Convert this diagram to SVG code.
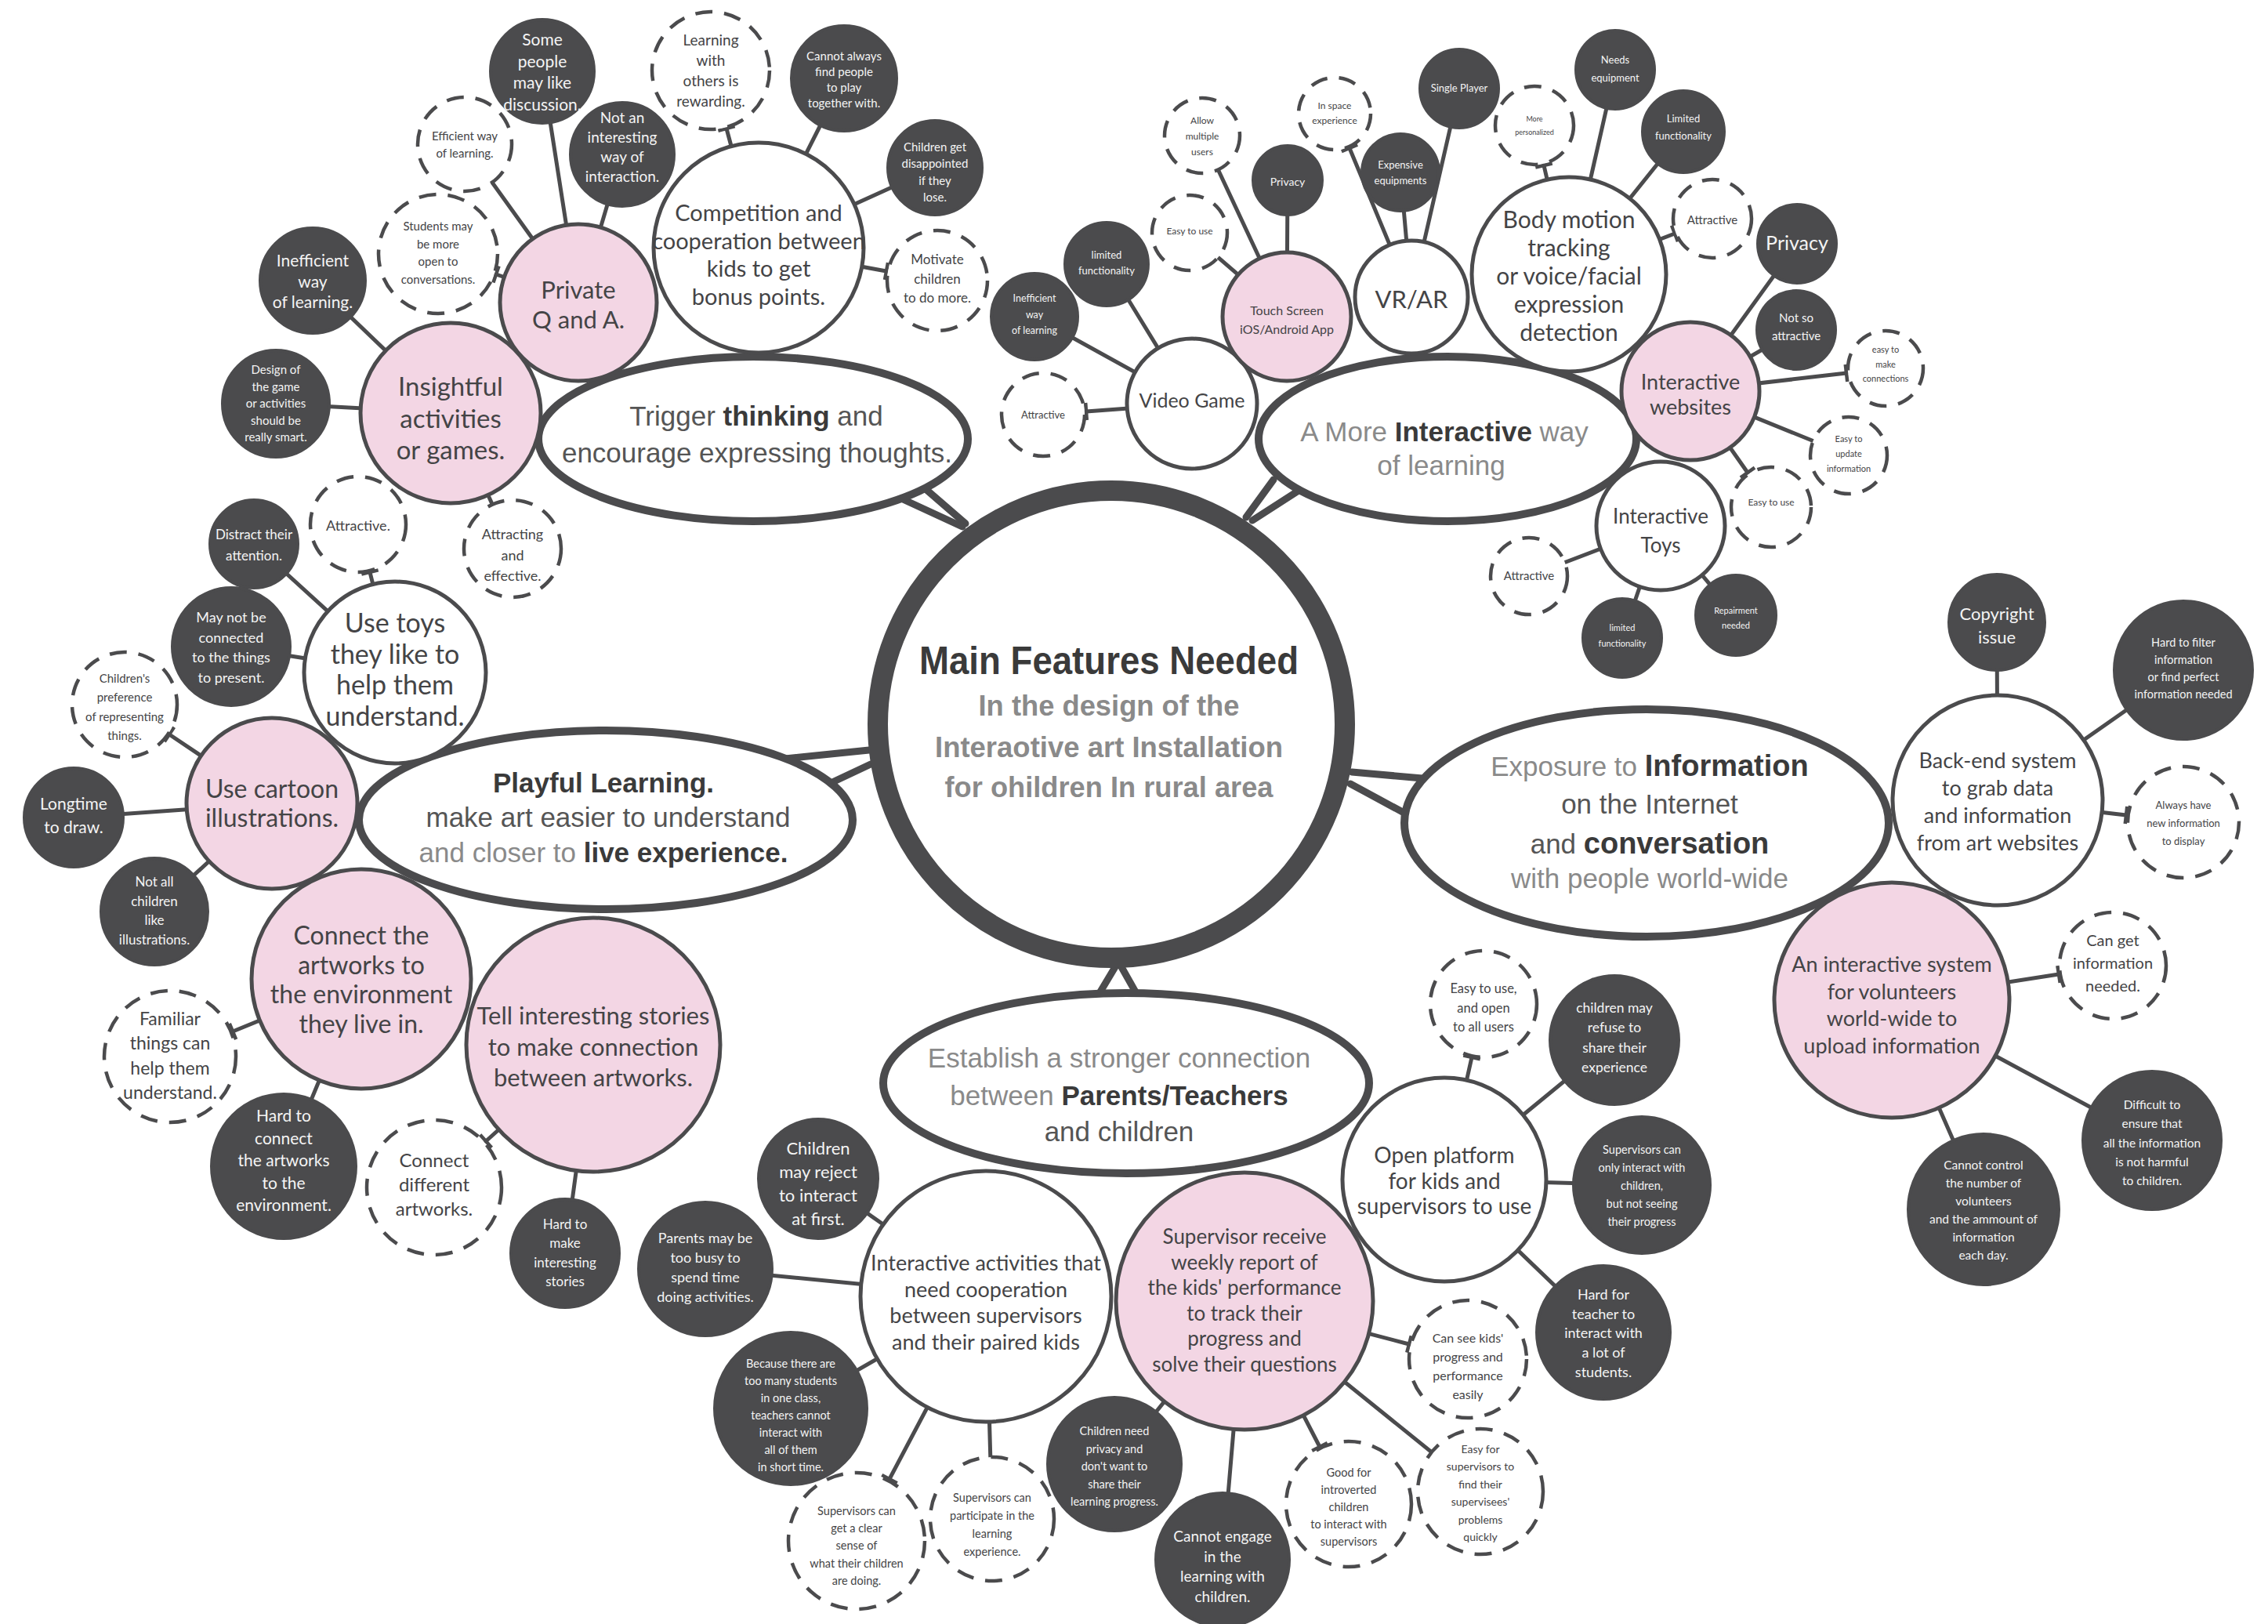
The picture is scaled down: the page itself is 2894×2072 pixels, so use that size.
<svg xmlns="http://www.w3.org/2000/svg" width="2894" height="2072" viewBox="0 0 2894 2072">
<style>
.dk{fill:#4b4b4d;stroke:#4b4b4d;stroke-width:4}
.pk{fill:#f3d6e4;stroke:#4b4b4d;stroke-width:5}
.wh{fill:#ffffff;stroke:#4b4b4d;stroke-width:5}
.ds{fill:#ffffff;stroke:#4b4b4d;stroke-width:4.5;stroke-dasharray:22 15}
.el{fill:#ffffff;stroke:#4b4b4d;stroke-width:10}
.tw{fill:#f4f4f4;font-family:Lato,"Open Sans",sans-serif;text-anchor:middle}
.tk{fill:#444446;font-family:Lato,"Open Sans",sans-serif;text-anchor:middle}
.et{font-family:"Liberation Sans",Arial,sans-serif;font-size:35px;text-anchor:middle}
.g{fill:#8a8a8a}.m{fill:#555555}.b{fill:#3a3a3a;font-weight:bold}
#conn line{stroke:#4b4b4d;stroke-width:5;stroke-linecap:round}
#conn line.t{marker-end:url(#tee)}
#conn line.v{stroke-width:9}
</style>
<defs>
<marker id="tee" viewBox="-3 -12 6 24" refX="0" refY="0" markerWidth="6" markerHeight="24" markerUnits="userSpaceOnUse" orient="auto"><path d="M0,-11 V11" stroke="#4b4b4d" stroke-width="4.5" fill="none"/></marker>
</defs>
<rect width="2894" height="2072" fill="#ffffff"/>
<g id="conn">
<line x1="1232" y1="668" x2="1180" y2="623" class="v"/>
<line x1="1228" y1="672" x2="1150" y2="636" class="v"/>
<line x1="1590" y1="660" x2="1625" y2="612" class="v"/>
<line x1="1598" y1="664" x2="1657" y2="626" class="v"/>
<line x1="1109" y1="957" x2="1002" y2="968" class="v"/>
<line x1="1111" y1="975" x2="1060" y2="999" class="v"/>
<line x1="1725" y1="985" x2="1815" y2="993" class="v"/>
<line x1="1723" y1="1000" x2="1797" y2="1040" class="v"/>
<line x1="1424" y1="1232" x2="1400" y2="1272" class="v"/>
<line x1="1430" y1="1232" x2="1452" y2="1271" class="v"/>
<line x1="738" y1="386" x2="692" y2="91"/>
<line x1="738" y1="386" x2="593" y2="184"/>
<line x1="738" y1="386" x2="794" y2="197"/>
<line x1="738" y1="386" x2="633" y2="350" class="t"/>
<line x1="575" y1="527" x2="399" y2="358"/>
<line x1="575" y1="527" x2="352" y2="515"/>
<line x1="575" y1="527" x2="654" y2="700"/>
<line x1="968" y1="316" x2="1077" y2="100"/>
<line x1="968" y1="316" x2="1193" y2="214"/>
<line x1="968" y1="316" x2="927" y2="164" class="t"/>
<line x1="968" y1="316" x2="1131" y2="346" class="t"/>
<line x1="504" y1="858" x2="324" y2="694"/>
<line x1="504" y1="858" x2="295" y2="825"/>
<line x1="504" y1="858" x2="472" y2="730" class="t"/>
<line x1="347" y1="1025" x2="94" y2="1043"/>
<line x1="347" y1="1025" x2="197" y2="1163"/>
<line x1="347" y1="1025" x2="216" y2="937" class="t"/>
<line x1="461" y1="1249" x2="362" y2="1488"/>
<line x1="461" y1="1249" x2="297" y2="1316" class="t"/>
<line x1="757" y1="1333" x2="721" y2="1599"/>
<line x1="757" y1="1333" x2="620" y2="1456" class="t"/>
<line x1="1258" y1="1654" x2="1044" y2="1504"/>
<line x1="1258" y1="1654" x2="900" y2="1619"/>
<line x1="1258" y1="1654" x2="1009" y2="1797"/>
<line x1="1258" y1="1654" x2="1266" y2="1938"/>
<line x1="1258" y1="1654" x2="1135" y2="1887" class="t"/>
<line x1="1588" y1="1660" x2="1422" y2="1868"/>
<line x1="1588" y1="1660" x2="1560" y2="1990"/>
<line x1="1588" y1="1660" x2="1889" y2="1903"/>
<line x1="1588" y1="1660" x2="1684" y2="1846" class="t"/>
<line x1="1588" y1="1660" x2="1798" y2="1715" class="t"/>
<line x1="1843" y1="1505" x2="2060" y2="1327"/>
<line x1="1843" y1="1505" x2="2095" y2="1512"/>
<line x1="1843" y1="1505" x2="2046" y2="1700"/>
<line x1="1843" y1="1505" x2="1878" y2="1349" class="t"/>
<line x1="2549" y1="1021" x2="2548" y2="794"/>
<line x1="2549" y1="1021" x2="2786" y2="855"/>
<line x1="2549" y1="1021" x2="2713" y2="1040" class="t"/>
<line x1="2414" y1="1276" x2="2746" y2="1455"/>
<line x1="2414" y1="1276" x2="2531" y2="1543"/>
<line x1="2414" y1="1276" x2="2627" y2="1243" class="t"/>
<line x1="1521" y1="515" x2="1320" y2="404"/>
<line x1="1521" y1="515" x2="1412" y2="337"/>
<line x1="1521" y1="515" x2="1386" y2="525" class="t"/>
<line x1="1642" y1="404" x2="1518" y2="297"/>
<line x1="1642" y1="404" x2="1534" y2="173"/>
<line x1="1642" y1="404" x2="1643" y2="230"/>
<line x1="1801" y1="379" x2="1787" y2="220"/>
<line x1="1801" y1="379" x2="1862" y2="113"/>
<line x1="1801" y1="379" x2="1722" y2="189" class="t"/>
<line x1="2002" y1="350" x2="2061" y2="89"/>
<line x1="2002" y1="350" x2="2148" y2="168"/>
<line x1="2002" y1="350" x2="1970" y2="211" class="t"/>
<line x1="2002" y1="350" x2="2137" y2="298" class="t"/>
<line x1="2157" y1="499" x2="2293" y2="311"/>
<line x1="2157" y1="499" x2="2292" y2="421"/>
<line x1="2157" y1="499" x2="2359" y2="581"/>
<line x1="2157" y1="499" x2="2356" y2="476" class="t"/>
<line x1="2157" y1="499" x2="2230" y2="603" class="t"/>
<line x1="2119" y1="671" x2="1951" y2="735"/>
<line x1="2119" y1="671" x2="2070" y2="814"/>
<line x1="2119" y1="671" x2="2215" y2="785"/>
</g>

<g id="e-trigger"><ellipse class="el" cx="961" cy="560" rx="274" ry="105"/>
<text class="et" x="965" y="543"><tspan class="m">Trigger </tspan><tspan class="b">thinking</tspan><tspan class="m"> and</tspan></text>
<text class="et m" x="966" y="590">encourage expressing thoughts.</text></g>
<g id="e-interactive"><ellipse class="el" cx="1847" cy="560" rx="241" ry="105"/>
<text class="et" x="1843" y="563"><tspan class="g">A More </tspan><tspan class="b">Interactive</tspan><tspan class="g"> way</tspan></text>
<text class="et g" x="1839" y="606">of learning</text></g>
<g id="e-playful"><ellipse class="el" cx="773" cy="1046" rx="315" ry="114"/>
<text class="et b" x="770" y="1011">Playful Learning.</text>
<text class="et m" x="776" y="1055">make art easier to understand</text>
<text class="et" x="770" y="1100"><tspan class="g">and closer to </tspan><tspan class="b">live experience.</tspan></text></g>
<g id="e-exposure"><ellipse class="el" cx="2101" cy="1050" rx="309" ry="145"/>
<text class="et" x="2105" y="990"><tspan class="g">Exposure to </tspan><tspan class="b" font-size="38">Information</tspan></text>
<text class="et m" x="2105" y="1038">on the Internet</text>
<text class="et" x="2105" y="1089"><tspan class="m">and  </tspan><tspan class="b" font-size="38">conversation</tspan></text>
<text class="et g" x="2105" y="1133">with people world-wide</text></g>
<g id="e-establish"><ellipse class="el" cx="1437" cy="1382" rx="310" ry="115"/>
<text class="et g" x="1428" y="1362">Establish a stronger connection</text>
<text class="et" x="1428" y="1410"><tspan class="g">between </tspan><tspan class="b">Parents/Teachers</tspan></text>
<text class="et m" x="1428" y="1456">and children</text></g>

<g id="center"><circle cx="1418" cy="924" r="298" fill="#ffffff" stroke="#4b4b4d" stroke-width="26"/>
<text x="1415" y="860" font-family="'Liberation Sans',Arial,sans-serif" font-weight="bold" font-size="50" fill="#3a3a3a" text-anchor="middle" textLength="484" lengthAdjust="spacingAndGlyphs">Main Features Needed</text>
<text x="1415" y="913" font-family="'Liberation Sans',Arial,sans-serif" font-weight="bold" font-size="37" fill="#8a8a8a" text-anchor="middle" textLength="333" lengthAdjust="spacingAndGlyphs">In the design of the</text>
<text x="1415" y="966" font-family="'Liberation Sans',Arial,sans-serif" font-weight="bold" font-size="37" fill="#8a8a8a" text-anchor="middle" textLength="444" lengthAdjust="spacingAndGlyphs">Interaotive art Installation</text>
<text x="1415" y="1017" font-family="'Liberation Sans',Arial,sans-serif" font-weight="bold" font-size="37" fill="#8a8a8a" text-anchor="middle" textLength="419" lengthAdjust="spacingAndGlyphs">for ohildren In rural area</text></g>

<g id="n-some"><circle class="dk" cx="692" cy="91" r="66"/><text class="tw" font-size="21" x="692" y="58"><tspan x="692">Some</tspan><tspan x="692" dy="27.5">people</tspan><tspan x="692" dy="27.5">may like</tspan><tspan x="692" dy="27.5">discussion.</tspan></text></g>
<g id="n-efficient"><circle class="ds" cx="593" cy="184" r="60"/><text class="tk" font-size="15" x="593" y="179"><tspan x="593">Efficient way</tspan><tspan x="593" dy="22">of learning.</tspan></text></g>
<g id="n-students"><circle class="ds" cx="559" cy="324" r="76"/><text class="tk" font-size="15" x="559" y="294"><tspan x="559">Students may</tspan><tspan x="559" dy="22.7">be more</tspan><tspan x="559" dy="22.7">open to</tspan><tspan x="559" dy="22.7">conversations.</tspan></text></g>
<g id="n-notinteresting"><circle class="dk" cx="794" cy="197" r="66"/><text class="tw" font-size="19" x="794" y="157"><tspan x="794">Not an</tspan><tspan x="794" dy="25">interesting</tspan><tspan x="794" dy="25">way of</tspan><tspan x="794" dy="25">interaction.</tspan></text></g>
<g id="n-learningwith"><circle class="ds" cx="907" cy="90" r="75"/><text class="tk" font-size="19" x="907" y="58"><tspan x="907">Learning</tspan><tspan x="907" dy="26">with</tspan><tspan x="907" dy="26">others is</tspan><tspan x="907" dy="26">rewarding.</tspan></text></g>
<g id="n-cannotalways"><circle class="dk" cx="1077" cy="100" r="67"/><text class="tw" font-size="15" x="1077" y="77"><tspan x="1077">Cannot always</tspan><tspan x="1077" dy="20">find people</tspan><tspan x="1077" dy="20">to play</tspan><tspan x="1077" dy="20">together with.</tspan></text></g>
<g id="n-disappointed"><circle class="dk" cx="1193" cy="214" r="60"/><text class="tw" font-size="15" x="1193" y="193"><tspan x="1193">Children get</tspan><tspan x="1193" dy="21.3">disappointed</tspan><tspan x="1193" dy="21.3">if they</tspan><tspan x="1193" dy="21.3">lose.</tspan></text></g>
<g id="n-motivate"><circle class="ds" cx="1196" cy="358" r="64"/><text class="tk" font-size="17" x="1196" y="337"><tspan x="1196">Motivate</tspan><tspan x="1196" dy="24.5">children</tspan><tspan x="1196" dy="24.5">to do more.</tspan></text></g>
<g id="n-competition"><circle class="wh" cx="968" cy="316" r="134"/><text class="tk" font-size="29" x="968" y="282"><tspan x="968">Competition and</tspan><tspan x="968" dy="35.5">cooperation between</tspan><tspan x="968" dy="35.5">kids to get</tspan><tspan x="968" dy="35.5">bonus points.</tspan></text></g>
<g id="n-private"><circle class="pk" cx="738" cy="386" r="100"/><text class="tk" font-size="31" x="738" y="381"><tspan x="738">Private</tspan><tspan x="738" dy="38">Q and A.</tspan></text></g>
<g id="n-inefficient1"><circle class="dk" cx="399" cy="358" r="67"/><text class="tw" font-size="21" x="399" y="340"><tspan x="399">Inefficient</tspan><tspan x="399" dy="26.5">way</tspan><tspan x="399" dy="26.5">of learning.</tspan></text></g>
<g id="n-insightful"><circle class="pk" cx="575" cy="527" r="115"/><text class="tk" font-size="33" x="575" y="505"><tspan x="575">Insightful</tspan><tspan x="575" dy="40.5">activities</tspan><tspan x="575" dy="40.5">or games.</tspan></text></g>
<g id="n-design"><circle class="dk" cx="352" cy="515" r="68"/><text class="tw" font-size="15" x="352" y="477"><tspan x="352">Design of</tspan><tspan x="352" dy="21.5">the game</tspan><tspan x="352" dy="21.5">or activities</tspan><tspan x="352" dy="21.5">should be</tspan><tspan x="352" dy="21.5">really smart.</tspan></text></g>
<g id="n-attractive-a"><circle class="ds" cx="457" cy="669" r="61"/><text class="tk" font-size="18" x="457" y="677">Attractive.</text></g>
<g id="n-attracting"><circle class="ds" cx="654" cy="700" r="62"/><text class="tk" font-size="18" x="654" y="688"><tspan x="654">Attracting</tspan><tspan x="654" dy="26.5">and</tspan><tspan x="654" dy="26.5">effective.</tspan></text></g>
<g id="n-distract"><circle class="dk" cx="324" cy="694" r="56"/><text class="tw" font-size="17" x="324" y="688"><tspan x="324">Distract their</tspan><tspan x="324" dy="27">attention.</tspan></text></g>
<g id="n-maynot"><circle class="dk" cx="295" cy="825" r="75"/><text class="tw" font-size="18" x="295" y="794"><tspan x="295">May not be</tspan><tspan x="295" dy="25.7">connected</tspan><tspan x="295" dy="25.7">to the things</tspan><tspan x="295" dy="25.7">to present.</tspan></text></g>
<g id="n-usetoys"><circle class="wh" cx="504" cy="858" r="116"/><text class="tk" font-size="34" x="504" y="807"><tspan x="504">Use toys</tspan><tspan x="504" dy="39.7">they like to</tspan><tspan x="504" dy="39.7">help them</tspan><tspan x="504" dy="39.7">understand.</tspan></text></g>
<g id="n-childpref"><circle class="ds" cx="159" cy="899" r="67"/><text class="tk" font-size="15" x="159" y="871"><tspan x="159">Children's</tspan><tspan x="159" dy="24.3">preference</tspan><tspan x="159" dy="24.3">of representing</tspan><tspan x="159" dy="24.3">things.</tspan></text></g>
<g id="n-cartoon"><circle class="pk" cx="347" cy="1025" r="109"/><text class="tk" font-size="32" x="347" y="1018"><tspan x="347">Use cartoon</tspan><tspan x="347" dy="37">illustrations.</tspan></text></g>
<g id="n-longtime"><circle class="dk" cx="94" cy="1043" r="63"/><text class="tw" font-size="21" x="94" y="1033"><tspan x="94">Longtime</tspan><tspan x="94" dy="30">to draw.</tspan></text></g>
<g id="n-notall"><circle class="dk" cx="197" cy="1163" r="68"/><text class="tw" font-size="17" x="197" y="1131"><tspan x="197">Not all</tspan><tspan x="197" dy="24.7">children</tspan><tspan x="197" dy="24.7">like</tspan><tspan x="197" dy="24.7">illustrations.</tspan></text></g>
<g id="n-connectart"><circle class="pk" cx="461" cy="1249" r="140"/><text class="tk" font-size="32" x="461" y="1205"><tspan x="461">Connect the</tspan><tspan x="461" dy="37.7">artworks to</tspan><tspan x="461" dy="37.7">the environment</tspan><tspan x="461" dy="37.7">they live in.</tspan></text></g>
<g id="n-tellstories"><circle class="pk" cx="757" cy="1333" r="162"/><text class="tk" font-size="31" x="757" y="1307"><tspan x="757">Tell interesting stories</tspan><tspan x="757" dy="39.5">to make connection</tspan><tspan x="757" dy="39.5">between artworks.</tspan></text></g>
<g id="n-familiar"><circle class="ds" cx="217" cy="1348" r="84"/><text class="tk" font-size="23" x="217" y="1308"><tspan x="217">Familiar</tspan><tspan x="217" dy="31.3">things can</tspan><tspan x="217" dy="31.3">help them</tspan><tspan x="217" dy="31.3">understand.</tspan></text></g>
<g id="n-hardconnect"><circle class="dk" cx="362" cy="1488" r="92"/><text class="tw" font-size="21" x="362" y="1431"><tspan x="362">Hard to</tspan><tspan x="362" dy="28.5">connect</tspan><tspan x="362" dy="28.5">the artworks</tspan><tspan x="362" dy="28.5">to the</tspan><tspan x="362" dy="28.5">environment.</tspan></text></g>
<g id="n-connectdiff"><circle class="ds" cx="554" cy="1515" r="86"/><text class="tk" font-size="24" x="554" y="1489"><tspan x="554">Connect</tspan><tspan x="554" dy="31">different</tspan><tspan x="554" dy="31">artworks.</tspan></text></g>
<g id="n-hardmake"><circle class="dk" cx="721" cy="1599" r="69"/><text class="tw" font-size="17" x="721" y="1568"><tspan x="721">Hard to</tspan><tspan x="721" dy="24.3">make</tspan><tspan x="721" dy="24.3">interesting</tspan><tspan x="721" dy="24.3">stories</tspan></text></g>

<g id="n-reject"><circle class="dk" cx="1044" cy="1504" r="76"/><text class="tw" font-size="22" x="1044" y="1473"><tspan x="1044">Children</tspan><tspan x="1044" dy="30">may reject</tspan><tspan x="1044" dy="30">to interact</tspan><tspan x="1044" dy="30">at first.</tspan></text></g>
<g id="n-parents"><circle class="dk" cx="900" cy="1619" r="85"/><text class="tw" font-size="18" x="900" y="1586"><tspan x="900">Parents may be</tspan><tspan x="900" dy="25">too busy to</tspan><tspan x="900" dy="25">spend time</tspan><tspan x="900" dy="25">doing activities.</tspan></text></g>
<g id="n-interact"><circle class="wh" cx="1258" cy="1654" r="160"/><text class="tk" font-size="27" x="1258" y="1621"><tspan x="1258">Interactive activities that</tspan><tspan x="1258" dy="33.7">need cooperation</tspan><tspan x="1258" dy="33.7">between supervisors</tspan><tspan x="1258" dy="33.7">and their paired kids</tspan></text></g>
<g id="n-because"><circle class="dk" cx="1009" cy="1797" r="97"/><text class="tw" font-size="14.5" x="1009" y="1745"><tspan x="1009">Because there are</tspan><tspan x="1009" dy="22">too many students</tspan><tspan x="1009" dy="22">in one class,</tspan><tspan x="1009" dy="22">teachers cannot</tspan><tspan x="1009" dy="22">interact with</tspan><tspan x="1009" dy="22">all of them</tspan><tspan x="1009" dy="22">in short time.</tspan></text></g>
<g id="n-supclear"><circle class="ds" cx="1093" cy="1966" r="87"/><text class="tk" font-size="14.5" x="1093" y="1933"><tspan x="1093">Supervisors can</tspan><tspan x="1093" dy="22.2">get a clear</tspan><tspan x="1093" dy="22.2">sense of</tspan><tspan x="1093" dy="22.2">what their children</tspan><tspan x="1093" dy="22.2">are doing.</tspan></text></g>
<g id="n-suppart"><circle class="ds" cx="1266" cy="1938" r="79"/><text class="tk" font-size="14.5" x="1266" y="1916"><tspan x="1266">Supervisors can</tspan><tspan x="1266" dy="23">participate in the</tspan><tspan x="1266" dy="23">learning</tspan><tspan x="1266" dy="23">experience.</tspan></text></g>
<g id="n-privacyneed"><circle class="dk" cx="1422" cy="1868" r="85"/><text class="tw" font-size="14.5" x="1422" y="1831"><tspan x="1422">Children need</tspan><tspan x="1422" dy="22.5">privacy and</tspan><tspan x="1422" dy="22.5">don't want to</tspan><tspan x="1422" dy="22.5">share their</tspan><tspan x="1422" dy="22.5">learning progress.</tspan></text></g>
<g id="n-supreceive"><circle class="pk" cx="1588" cy="1660" r="164"/><text class="tk" font-size="26" x="1588" y="1587"><tspan x="1588">Supervisor receive</tspan><tspan x="1588" dy="32.6">weekly report of</tspan><tspan x="1588" dy="32.6">the kids' performance</tspan><tspan x="1588" dy="32.6">to track their</tspan><tspan x="1588" dy="32.6">progress and</tspan><tspan x="1588" dy="32.6">solve their questions</tspan></text></g>
<g id="n-cannotengage"><circle class="dk" cx="1560" cy="1990" r="85"/><text class="tw" font-size="19" x="1560" y="1967"><tspan x="1560">Cannot engage</tspan><tspan x="1560" dy="25.7">in the</tspan><tspan x="1560" dy="25.7">learning with</tspan><tspan x="1560" dy="25.7">children.</tspan></text></g>
<g id="n-goodintro"><circle class="ds" cx="1721" cy="1919" r="80"/><text class="tk" font-size="14.5" x="1721" y="1884"><tspan x="1721">Good for</tspan><tspan x="1721" dy="22">introverted</tspan><tspan x="1721" dy="22">children</tspan><tspan x="1721" dy="22">to interact with</tspan><tspan x="1721" dy="22">supervisors</tspan></text></g>
<g id="n-easysup"><circle class="ds" cx="1889" cy="1903" r="80"/><text class="tk" font-size="14" x="1889" y="1854"><tspan x="1889">Easy for</tspan><tspan x="1889" dy="22.4">supervisors to</tspan><tspan x="1889" dy="22.4">find their</tspan><tspan x="1889" dy="22.4">supervisees'</tspan><tspan x="1889" dy="22.4">problems</tspan><tspan x="1889" dy="22.4">quickly</tspan></text></g>
<g id="n-cansee"><circle class="ds" cx="1873" cy="1734" r="75"/><text class="tk" font-size="16" x="1873" y="1713"><tspan x="1873">Can see kids'</tspan><tspan x="1873" dy="24">progress and</tspan><tspan x="1873" dy="24">performance</tspan><tspan x="1873" dy="24">easily</tspan></text></g>
<g id="n-openplatform"><circle class="wh" cx="1843" cy="1505" r="130"/><text class="tk" font-size="28" x="1843" y="1484"><tspan x="1843">Open platform</tspan><tspan x="1843" dy="32.5">for kids and</tspan><tspan x="1843" dy="32.5">supervisors to use</tspan></text></g>
<g id="n-easyopen"><circle class="ds" cx="1893" cy="1281" r="68"/><text class="tk" font-size="16.5" x="1893" y="1267"><tspan x="1893">Easy to use,</tspan><tspan x="1893" dy="24.5">and open</tspan><tspan x="1893" dy="24.5">to all users</tspan></text></g>
<g id="n-refuse"><circle class="dk" cx="2060" cy="1327" r="82"/><text class="tw" font-size="17.5" x="2060" y="1292"><tspan x="2060">children may</tspan><tspan x="2060" dy="25.3">refuse to</tspan><tspan x="2060" dy="25.3">share their</tspan><tspan x="2060" dy="25.3">experience</tspan></text></g>
<g id="n-onlyinteract"><circle class="dk" cx="2095" cy="1512" r="87"/><text class="tw" font-size="14.5" x="2095" y="1472"><tspan x="2095">Supervisors can</tspan><tspan x="2095" dy="23">only interact with</tspan><tspan x="2095" dy="23">children,</tspan><tspan x="2095" dy="23">but not seeing</tspan><tspan x="2095" dy="23">their progress</tspan></text></g>
<g id="n-hardteacher"><circle class="dk" cx="2046" cy="1700" r="85"/><text class="tw" font-size="18" x="2046" y="1658"><tspan x="2046">Hard for</tspan><tspan x="2046" dy="24.7">teacher to</tspan><tspan x="2046" dy="24.7">interact with</tspan><tspan x="2046" dy="24.7">a lot of</tspan><tspan x="2046" dy="24.7">students.</tspan></text></g>

<g id="n-copyright"><circle class="dk" cx="2548" cy="794" r="61"/><text class="tw" font-size="22" x="2548" y="791"><tspan x="2548">Copyright</tspan><tspan x="2548" dy="30">issue</tspan></text></g>
<g id="n-hardfilter"><circle class="dk" cx="2786" cy="855" r="88"/><text class="tw" font-size="14.5" x="2786" y="825"><tspan x="2786">Hard to filter</tspan><tspan x="2786" dy="22">information</tspan><tspan x="2786" dy="22">or find perfect</tspan><tspan x="2786" dy="22">information needed</tspan></text></g>
<g id="n-backend"><circle class="wh" cx="2549" cy="1021" r="134"/><text class="tk" font-size="27" x="2549" y="980"><tspan x="2549">Back-end system</tspan><tspan x="2549" dy="35">to grab data</tspan><tspan x="2549" dy="35">and information</tspan><tspan x="2549" dy="35">from art websites</tspan></text></g>
<g id="n-always"><circle class="ds" cx="2786" cy="1049" r="71"/><text class="tk" font-size="13" x="2786" y="1032"><tspan x="2786">Always have</tspan><tspan x="2786" dy="23">new information</tspan><tspan x="2786" dy="23">to display</tspan></text></g>
<g id="n-volunteers"><circle class="pk" cx="2414" cy="1276" r="150"/><text class="tk" font-size="27" x="2414" y="1240"><tspan x="2414">An interactive system</tspan><tspan x="2414" dy="34.7">for volunteers</tspan><tspan x="2414" dy="34.7">world-wide to</tspan><tspan x="2414" dy="34.7">upload information</tspan></text></g>
<g id="n-canget"><circle class="ds" cx="2696" cy="1232" r="68"/><text class="tk" font-size="20" x="2696" y="1207"><tspan x="2696">Can get</tspan><tspan x="2696" dy="29">information</tspan><tspan x="2696" dy="29">needed.</tspan></text></g>
<g id="n-difficult"><circle class="dk" cx="2746" cy="1455" r="88"/><text class="tw" font-size="15.5" x="2746" y="1415"><tspan x="2746">Difficult to</tspan><tspan x="2746" dy="24.3">ensure that</tspan><tspan x="2746" dy="24.3">all the information</tspan><tspan x="2746" dy="24.3">is not harmful</tspan><tspan x="2746" dy="24.3">to children.</tspan></text></g>
<g id="n-cannotcontrol"><circle class="dk" cx="2531" cy="1543" r="96"/><text class="tw" font-size="15.5" x="2531" y="1492"><tspan x="2531">Cannot control</tspan><tspan x="2531" dy="23">the number of</tspan><tspan x="2531" dy="23">volunteers</tspan><tspan x="2531" dy="23">and the ammount of</tspan><tspan x="2531" dy="23">information</tspan><tspan x="2531" dy="23">each day.</tspan></text></g>

<g id="n-videogame"><circle class="wh" cx="1521" cy="515" r="83"/><text class="tk" font-size="25" x="1521" y="520">Video Game</text></g>
<g id="n-attractive-vg"><circle class="ds" cx="1331" cy="529" r="53"/><text class="tk" font-size="13" x="1331" y="534">Attractive</text></g>
<g id="n-inefficient-vg"><circle class="dk" cx="1320" cy="404" r="55"/><text class="tw" font-size="12.5" x="1320" y="385"><tspan x="1320">Inefficient</tspan><tspan x="1320" dy="20.5">way</tspan><tspan x="1320" dy="20.5">of learning</tspan></text></g>
<g id="n-limited-vg"><circle class="dk" cx="1412" cy="337" r="53"/><text class="tw" font-size="13" x="1412" y="330"><tspan x="1412">limited</tspan><tspan x="1412" dy="20">functionality</tspan></text></g>
<g id="n-easy-ts"><circle class="ds" cx="1518" cy="297" r="48"/><text class="tk" font-size="12" x="1518" y="299">Easy to use</text></g>
<g id="n-allow"><circle class="ds" cx="1534" cy="173" r="48"/><text class="tk" font-size="12" x="1534" y="158"><tspan x="1534">Allow</tspan><tspan x="1534" dy="20">multiple</tspan><tspan x="1534" dy="20">users</tspan></text></g>
<g id="n-privacy-ts"><circle class="dk" cx="1643" cy="230" r="44"/><text class="tw" font-size="14" x="1643" y="237">Privacy</text></g>
<g id="n-touch"><circle class="pk" cx="1642" cy="404" r="82"/><text class="tk" font-size="16" x="1642" y="402"><tspan x="1642">Touch Screen</tspan><tspan x="1642" dy="24">iOS/Android App</tspan></text></g>
<g id="n-inspace"><circle class="ds" cx="1703" cy="145" r="46"/><text class="tk" font-size="12" x="1703" y="139"><tspan x="1703">In space</tspan><tspan x="1703" dy="19">experience</tspan></text></g>
<g id="n-expensive"><circle class="dk" cx="1787" cy="220" r="49"/><text class="tw" font-size="13" x="1787" y="215"><tspan x="1787">Expensive</tspan><tspan x="1787" dy="20">equipments</tspan></text></g>
<g id="n-single"><circle class="dk" cx="1862" cy="113" r="50"/><text class="tw" font-size="13" x="1862" y="117">Single Player</text></g>
<g id="n-vrar"><circle class="wh" cx="1801" cy="379" r="72"/><text class="tk" font-size="31" x="1801" y="393">VR/AR</text></g>
<g id="n-morepers"><circle class="ds" cx="1958" cy="160" r="50"/><text class="tk" font-size="9" x="1958" y="155"><tspan x="1958">More</tspan><tspan x="1958" dy="17">personalized</tspan></text></g>
<g id="n-needs"><circle class="dk" cx="2061" cy="89" r="50"/><text class="tw" font-size="13" x="2061" y="81"><tspan x="2061">Needs</tspan><tspan x="2061" dy="23">equipment</tspan></text></g>
<g id="n-limited-bm"><circle class="dk" cx="2148" cy="168" r="52"/><text class="tw" font-size="13" x="2148" y="156"><tspan x="2148">Limited</tspan><tspan x="2148" dy="22">functionality</tspan></text></g>
<g id="n-bodymotion"><circle class="wh" cx="2002" cy="350" r="124"/><text class="tk" font-size="30" x="2002" y="291"><tspan x="2002">Body motion</tspan><tspan x="2002" dy="36">tracking</tspan><tspan x="2002" dy="36">or voice/facial</tspan><tspan x="2002" dy="36">expression</tspan><tspan x="2002" dy="36">detection</tspan></text></g>
<g id="n-attractive-bm"><circle class="ds" cx="2185" cy="279" r="50"/><text class="tk" font-size="15" x="2185" y="286">Attractive</text></g>
<g id="n-privacy-iw"><circle class="dk" cx="2293" cy="311" r="50"/><text class="tw" font-size="25" x="2293" y="319">Privacy</text></g>
<g id="n-websites"><circle class="pk" cx="2157" cy="499" r="88"/><text class="tk" font-size="27" x="2157" y="497"><tspan x="2157">Interactive</tspan><tspan x="2157" dy="32">websites</tspan></text></g>
<g id="n-notso"><circle class="dk" cx="2292" cy="421" r="50"/><text class="tw" font-size="15" x="2292" y="411"><tspan x="2292">Not so</tspan><tspan x="2292" dy="23">attractive</tspan></text></g>
<g id="n-easyconn"><circle class="ds" cx="2406" cy="470" r="48"/><text class="tk" font-size="11" x="2406" y="450"><tspan x="2406">easy to</tspan><tspan x="2406" dy="18.5">make</tspan><tspan x="2406" dy="18.5">connections</tspan></text></g>
<g id="n-easyupdate"><circle class="ds" cx="2359" cy="581" r="49"/><text class="tk" font-size="11" x="2359" y="564"><tspan x="2359">Easy to</tspan><tspan x="2359" dy="19">update</tspan><tspan x="2359" dy="19">information</tspan></text></g>
<g id="n-easy-iw"><circle class="ds" cx="2260" cy="647" r="51"/><text class="tk" font-size="12" x="2260" y="645">Easy to use</text></g>
<g id="n-toys"><circle class="wh" cx="2119" cy="671" r="82"/><text class="tk" font-size="26" x="2119" y="668"><tspan x="2119">Interactive</tspan><tspan x="2119" dy="37">Toys</tspan></text></g>
<g id="n-attractive-toys"><circle class="ds" cx="1951" cy="735" r="49"/><text class="tk" font-size="15" x="1951" y="740">Attractive</text></g>
<g id="n-limited-toys"><circle class="dk" cx="2070" cy="814" r="50"/><text class="tw" font-size="11" x="2070" y="805"><tspan x="2070">limited</tspan><tspan x="2070" dy="20">functionality</tspan></text></g>
<g id="n-repair"><circle class="dk" cx="2215" cy="785" r="51"/><text class="tw" font-size="11" x="2215" y="783"><tspan x="2215">Repairment</tspan><tspan x="2215" dy="19">needed</tspan></text></g>
</svg>
